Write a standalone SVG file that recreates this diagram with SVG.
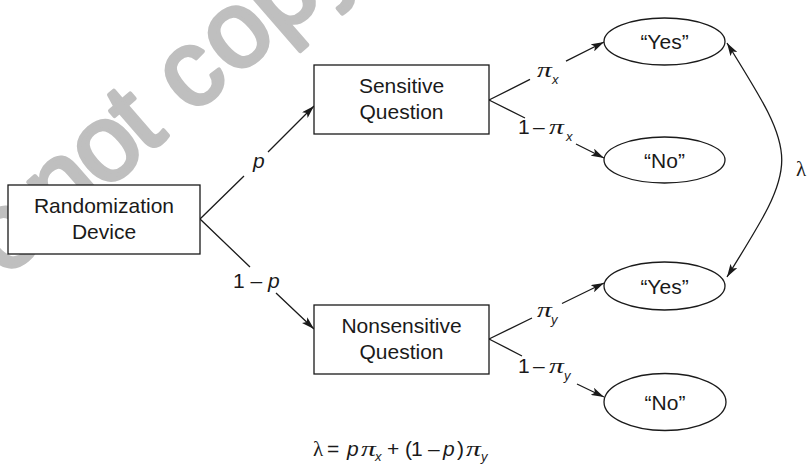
<svg xmlns="http://www.w3.org/2000/svg" width="808" height="466" viewBox="0 0 808 466">
<style>
.box{fill:#fff;stroke:#1a1a1a;stroke-width:1.3}
.ell{fill:#fff;stroke:#1a1a1a;stroke-width:1.3}
.t{font-family:"Liberation Sans",Arial,sans-serif;font-size:21px;fill:#1a1a1a}
.it{font-style:italic}
.pi{font-family:"Liberation Serif","Times New Roman",serif;font-style:italic;font-size:22px;fill:#1a1a1a}
.lam{font-family:"Liberation Serif","Times New Roman",serif;font-size:21px;fill:#1a1a1a}
.sub{font-size:13px;font-style:italic}
.c{text-anchor:middle}
.ln{fill:none;stroke:#1a1a1a;stroke-width:1.3}
.wm{font-family:"Liberation Sans",Arial,sans-serif;font-size:108px;fill:#bfbfbf;stroke:#bfbfbf;stroke-width:4;stroke-linejoin:round}
</style>
<defs>
<marker id="ah" viewBox="0 0 13 8" refX="13" refY="4" markerWidth="13" markerHeight="8" markerUnits="userSpaceOnUse" orient="auto-start-reverse">
<path d="M0,0 L13,4 L0,8 L3,4 Z" fill="#1a1a1a"/>
</marker>
</defs>
<rect width="808" height="466" fill="#fff"/>
<text class="wm" transform="translate(212,98) rotate(-41)" x="-350 -275 -215 -201 -143 -87 -57 -27 30 90 150">Do not copy</text>

<g id="connectors">
<path class="ln" d="M200,219 L244,176 M268,152 L314,106" marker-end="url(#ah)"/>
<path class="ln" d="M200,219 L250,267 M276,293 L314,329" marker-end="url(#ah)"/>
<path class="ln" d="M489,100 L530,79.3 M566,61.2 L604,42" marker-end="url(#ah)"/>
<path class="ln" d="M489,100 L525,118 M576,144 L604,158" marker-end="url(#ah)"/>
<path class="ln" d="M489,339 L532,318 M562,303.5 L604,283" marker-end="url(#ah)"/>
<path class="ln" d="M489,339 L522,356 M577,384 L604,397" marker-end="url(#ah)"/>
<path class="ln" d="M727,43 C800,160 800,160 727,277" marker-start="url(#ah)" marker-end="url(#ah)"/>
</g>

<g id="randomization">
<rect class="box" x="8" y="185" width="192" height="69"/>
<text class="t c" x="104" y="213">Randomization</text>
<text class="t c" x="104" y="239">Device</text>
</g>
<g id="sensitive">
<rect class="box" x="314" y="65" width="175" height="69"/>
<text class="t c" x="401.5" y="93">Sensitive</text>
<text class="t c" x="401.5" y="119">Question</text>
</g>
<g id="nonsensitive">
<rect class="box" x="314" y="305" width="175" height="69"/>
<text class="t c" x="401.5" y="333">Nonsensitive</text>
<text class="t c" x="401.5" y="359">Question</text>
</g>
<g id="yes-x">
<ellipse class="ell" cx="664.5" cy="41.5" rx="60.5" ry="23.5"/>
<text class="t c" x="664.5" y="49">“Yes”</text>
</g>
<g id="no-x">
<ellipse class="ell" cx="664.5" cy="160" rx="60.5" ry="23"/>
<text class="t c" x="664.5" y="167.5">“No”</text>
</g>
<g id="yes-y">
<ellipse class="ell" cx="664.5" cy="286" rx="60.5" ry="24"/>
<text class="t c" x="664.5" y="293.5">“Yes”</text>
</g>
<g id="no-y">
<ellipse class="ell" cx="665" cy="402" rx="61" ry="28.5"/>
<text class="t c" x="665" y="409.5">“No”</text>
</g>

<g id="labels">
<text class="t it" x="253" y="168">p</text>
<text class="t" x="233" y="288">1 – <tspan class="it">p</tspan></text>

<text class="pi" transform="translate(537,77) scale(1.35,1)">π</text>
<text class="t sub" x="552" y="84">x</text>
<text class="t" x="518" y="134">1</text>
<text class="t" x="533" y="134">–</text>
<text class="pi" transform="translate(549,134) scale(1.35,1)">π</text>
<text class="t sub" x="566" y="141">x</text>

<text class="pi" transform="translate(537,317) scale(1.35,1)">π</text>
<text class="t sub" x="551" y="324">y</text>
<text class="t" x="518" y="373">1</text>
<text class="t" x="533" y="373">–</text>
<text class="pi" transform="translate(549,373) scale(1.35,1)">π</text>
<text class="t sub" x="564" y="380">y</text>

<text class="lam" x="796" y="176">λ</text>

<text class="lam" x="313" y="456">λ</text>
<text class="t" x="327" y="456">=</text>
<text class="t it" x="347" y="456">p</text>
<text class="pi" transform="translate(361,456) scale(1.35,1)">π</text>
<text class="t sub" x="375" y="461">x</text>
<text class="t" x="387" y="456">+</text>
<text class="t" x="405" y="456">(</text>
<text class="t" x="411" y="456">1</text>
<text class="t" x="428" y="456">–</text>
<text class="t it" x="443" y="456">p</text>
<text class="t" x="457" y="456">)</text>
<text class="pi" transform="translate(466,456) scale(1.35,1)">π</text>
<text class="t sub" x="481" y="461">y</text>
</g>
</svg>
